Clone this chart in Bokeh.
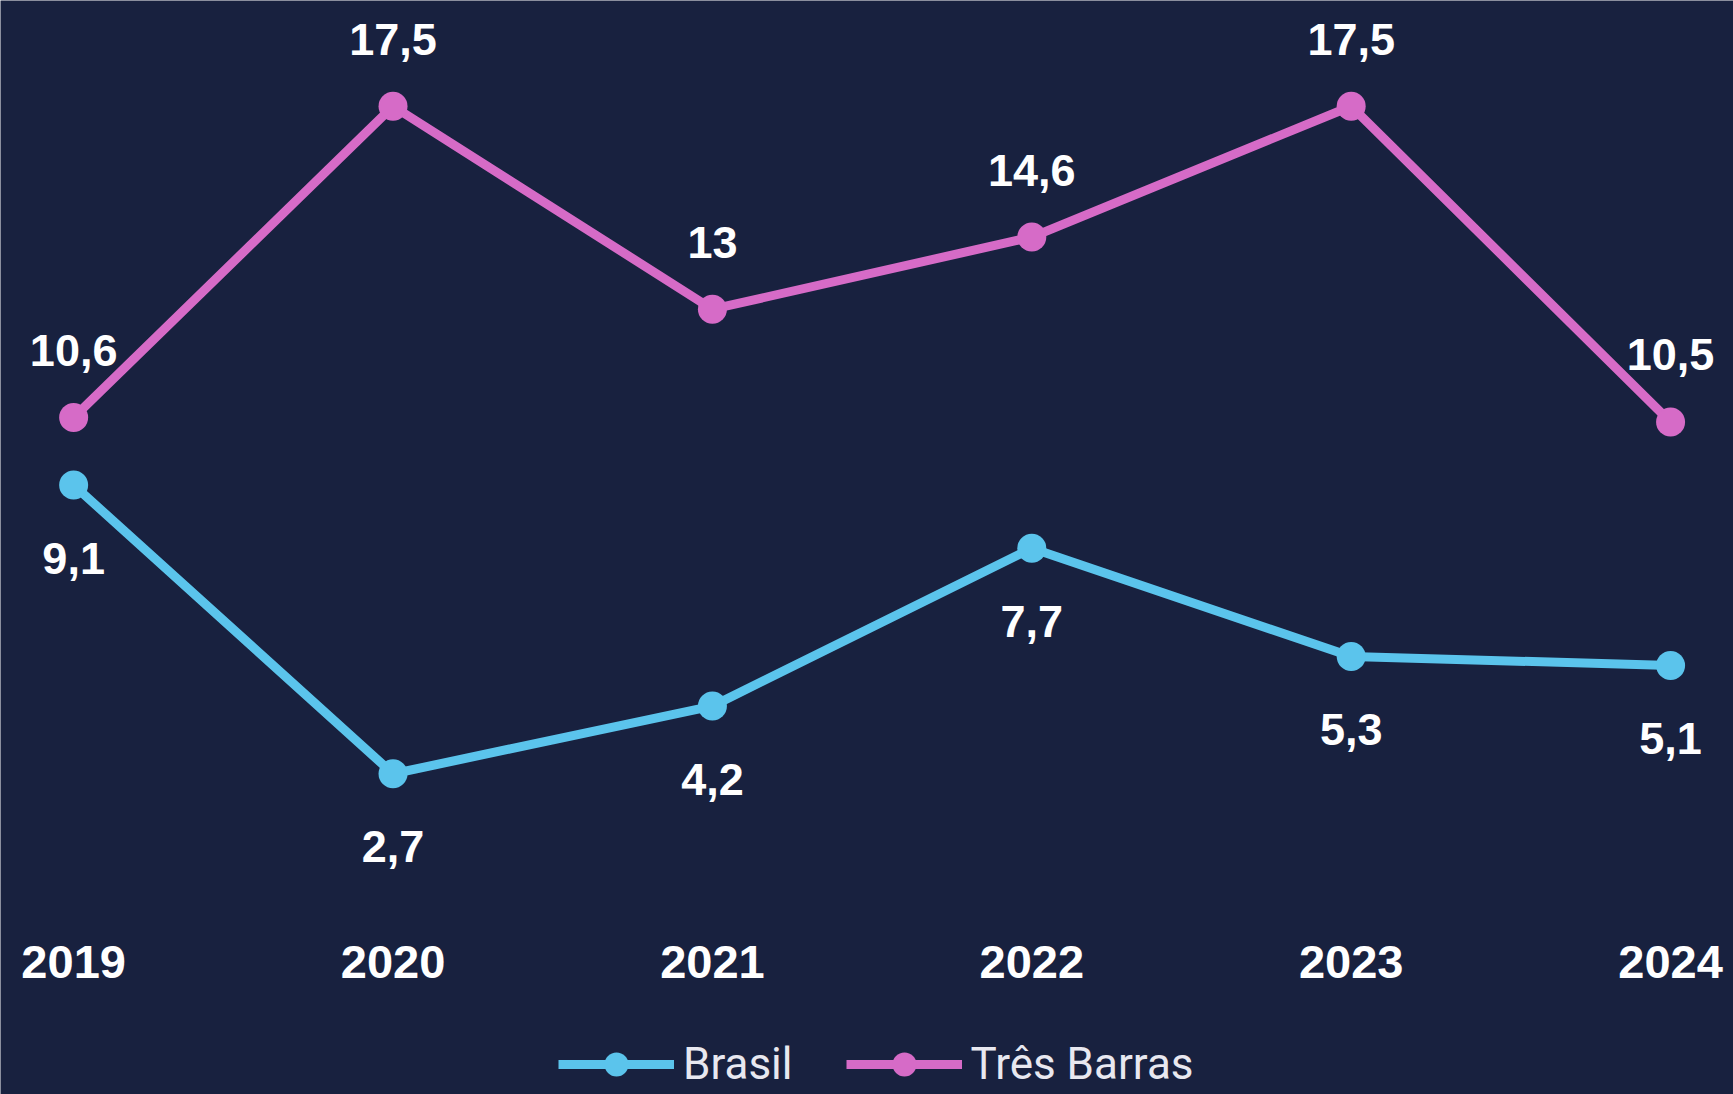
from bokeh.plotting import figure
from bokeh.models import Legend, LegendItem, Range1d, ColumnDataSource
from bokeh.embed import file_html
from bokeh.resources import INLINE
from bokeh.core.properties import value

# ---- data ----
years = [2019, 2020, 2021, 2022, 2023, 2024]
year_labels = ["2019", "2020", "2021", "2022", "2023", "2024"]
brasil = [9.1, 2.7, 4.2, 7.7, 5.3, 5.1]
tres_barras = [10.6, 17.5, 13.0, 14.6, 17.5, 10.5]

def fmt(v):
    return f"{v:g}".replace(".", ",")

BG = "#18213F"
BLUE = "#5BC4EC"
PINK = "#D66BC7"
WHITE = "#FFFFFF"
FONT = "Liberation Sans"

src_b = ColumnDataSource(dict(x=years, y=brasil, t=[fmt(v) for v in brasil]))
src_t = ColumnDataSource(dict(x=years, y=tres_barras, t=[fmt(v) for v in tres_barras]))
src_years = ColumnDataSource(dict(x=years, t=year_labels))

p = figure(width=1733, height=1094, output_backend="svg", toolbar_location=None,
           x_range=Range1d(2018.771, 2024.197), y_range=Range1d(-4.412, 19.845),
           min_border_left=0, min_border_right=0, min_border_top=0, min_border_bottom=0,
           x_axis_location=None, y_axis_location=None,
           background_fill_color=BG, border_fill_color=BG, outline_line_color=None)

p.xgrid.visible = False
p.ygrid.visible = False

lb = p.line("x", "y", source=src_b, line_color=BLUE, line_width=9)
sb = p.scatter("x", "y", source=src_b, size=29, fill_color=BLUE, line_color=None)
lt = p.line("x", "y", source=src_t, line_color=PINK, line_width=9)
st = p.scatter("x", "y", source=src_t, size=29, fill_color=PINK, line_color=None)

common = dict(text_color=WHITE, text_font=value(FONT), text_font_style="bold",
              text_font_size="45px", text_align="center", text_baseline="middle")
p.text("x", "y", text="t", source=src_t, y_offset=-67, **common)
p.text("x", "y", text="t", source=src_b, y_offset=73, **common)

# category (year) labels along the bottom, placed through the x scale
p.text("x", 0, text="t", source=src_years, y_offset=66,
       text_color=WHITE, text_font=value(FONT), text_font_style="bold",
       text_font_size="47px", text_align="center", text_baseline="middle")

legend = Legend(items=[LegendItem(label="Brasil", renderers=[lb, sb]),
                       LegendItem(label="Três Barras", renderers=[lt, st])],
                orientation="horizontal", location=(558, 0),
                background_fill_alpha=0, border_line_alpha=0,
                label_text_color="#E8E8F0", label_text_font="Roboto",
                label_text_font_size="44px", glyph_width=116, glyph_height=60,
                label_standoff=9, spacing=53, padding=0, margin=0)
p.add_layout(legend, "center")

open("out.html", "w").write(file_html(p, INLINE))
